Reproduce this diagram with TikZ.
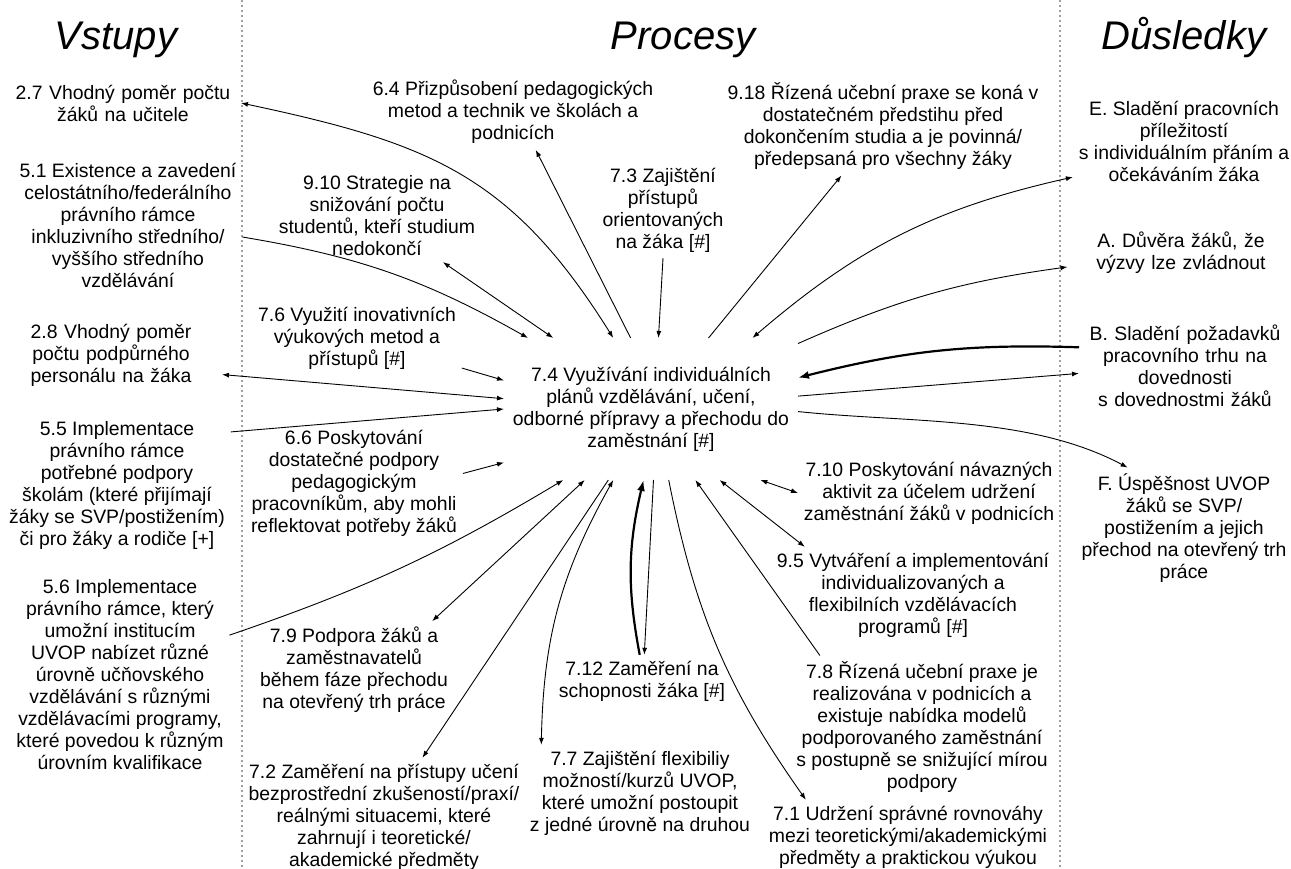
\documentclass[tikz,border=0pt]{standalone}
\usepackage{fontspec}
\setmainfont{Liberation Sans}
\usetikzlibrary{arrows.meta}

\begin{document}
\begin{tikzpicture}[
  x=1pt, y=1pt,
  txt/.style={align=center, inner sep=3pt, outer sep=3pt, font=\fontsize{19.4}{22}\selectfont},
  hub/.style={txt, minimum width=294pt, minimum height=142pt, inner sep=0pt, outer sep=0pt},
  hdr/.style={anchor=base, font=\fontsize{40}{44}\selectfont\itshape},
  divider/.style={gray!75, line width=1.1pt, dash pattern=on 2.5pt off 2.5pt},
  arr/.style={-{Latex[length=7pt,width=5pt]}, line width=0.9pt},
  biarr/.style={{Latex[length=7pt,width=5pt]}-{Latex[length=7pt,width=5pt]}, line width=0.9pt},
  tharr/.style={-{Latex[length=11pt,width=8pt]}, line width=2.2pt}
]
\useasboundingbox (0,0) rectangle (1291,869);

% column dividers
\draw[divider] (242,869) -- (242,0);
\draw[divider] (1060,869) -- (1060,0);

% headings
\node[hdr] (hVst) at (116,819) {Vstupy};
\node[hdr] (hPro) at (683,819) {Procesy};
\node[hdr] (hDus) at (1184,819) {Důsledky};

% inputs
\node[txt, text width=224pt] (n27) at (123,766) {2.7 Vhodný poměr počtu\\žáků na učitele};
\node[txt] (n51) at (128,644) {5.1 Existence a zavedení\\celostátního/federálního\\právního rámce\\inkluzivního středního/\\vyššího středního\\vzdělávání};
\node[txt, text width=210pt] (n28) at (111,514) {2.8 Vhodný poměr\\počtu podpůrného\\personálu na žáka};
\node[txt] (n55) at (117,384) {5.5 Implementace\\právního rámce\\potřebné podpory\\školám (které přijímají\\žáky se SVP/postižením)\\či pro žáky a rodiče [+]};
\node[txt] (n56) at (120,194) {5.6 Implementace\\právního rámce, který\\umožní institucím\\UVOP nabízet různé\\úrovně učňovského\\vzdělávání s různými\\vzdělávacími programy,\\které povedou k různým\\úrovním kvalifikace};

% processes
\node[hub] (hub) at (651,460) {7.4 Využívání individuálních\\plánů vzdělávání, učení,\\odborné přípravy a přechodu do\\zaměstnání [\#]};
\node[txt] (n64) at (513,757) {6.4 Přizpůsobení pedagogických\\metod a technik ve školách a\\podnicích};
\node[txt] (n910) at (377,653) {9.10 Strategie na\\snižování počtu\\studentů, kteří studium\\nedokončí};
\node[txt] (n73) at (663,659) {7.3 Zajištění\\přístupů\\orientovaných\\na žáka [\#]};
\node[txt] (n918) at (883,743) {9.18 Řízená učební praxe se koná v\\dostatečném předstihu před\\dokončením studia a je povinná/\\předepsaná pro všechny žáky};
\node[txt] (n76) at (357,531) {7.6 Využití inovativních\\výukových metod a\\přístupů [\#]};
\node[txt] (n66) at (354,386) {6.6 Poskytování\\dostatečné podpory\\pedagogickým\\pracovníkům, aby mohli\\reflektovat potřeby žáků};
\node[txt] (n79) at (354,199) {7.9 Podpora žáků a\\zaměstnavatelů\\během fáze přechodu\\na otevřený trh práce};
\node[txt] (n712) at (642,188) {7.12 Zaměření na\\schopnosti žáka [\#]};
\node[txt] (n72) at (384,52) {7.2 Zaměření na přístupy učení\\bezprostřední zkušeností/praxí/\\reálnými situacemi, které\\zahrnují i teoretické/\\akademické předměty};
\node[txt] (n77) at (640,76) {7.7 Zajištění flexibiliy\\možností/kurzů UVOP,\\které umožní postoupit\\z jedné úrovně na druhou};
\node[txt] (n710) at (929,376) {7.10 Poskytování návazných\\aktivit za účelem udržení\\zaměstnání žáků v podnicích};
\node[txt] (n95) at (913,274) {9.5 Vytváření a implementování\\individualizovaných a\\flexibilních vzdělávacích\\programů [\#]};
\node[txt] (n78) at (922,142) {7.8 Řízená učební praxe je\\realizována v podnicích a\\existuje nabídka modelů\\podporovaného zaměstnání\\s postupně se snižující mírou\\podpory};
\node[txt] (n71) at (908,32) {7.1 Udržení správné rovnováhy\\mezi teoretickými/akademickými\\předměty a praktickou výukou};

% outcomes
\node[txt] (nE) at (1184,728) {E. Sladění pracovních\\příležitostí\\s individuálním přáním a\\očekáváním žáka};
\node[txt, text width=215pt] (nA) at (1181,616) {A. Důvěra žáků, že\\výzvy lze zvládnout};
\node[txt, text width=200pt] (nB) at (1185,503) {B. Sladění požadavků\\pracovního trhu na\\dovednosti\\s dovednostmi žáků};
\node[txt] (nF) at (1184,341) {F. Úspěšnost UVOP\\žáků se SVP/\\postižením a jejich\\přechod na otevřený trh\\práce};

% links above the hub
\draw[biarr] (hub.118) to[out=122, in=-12, looseness=1.12] (n27.east);
\draw[arr] (n51.-6) to[bend left=10] (hub.150);
\draw[biarr] (n910.-35) -- (hub.144);
\draw[arr] (hub.106) -- (n64.-59);
\draw[arr] (n73.south) -- (hub.84);
\draw[arr] (hub.51) -- (n918.-130);
\draw[biarr] (hub.35) to[bend left=14] (nE.-162);
\draw[arr] (hub.24) to[bend left=8] (nA.-173);

% links to the right
\draw[tharr] (nB.170) to[bend right=8] (hub.12);
\draw[arr] (hub.5) -- (nB.-176);
\draw[arr] (hub.-1) to[out=-6, in=152, looseness=0.85] (nF.133);
\draw[biarr] (hub.-33) -- (n710.west);

% links below the hub
\draw[biarr] (hub.-46) -- (n95.156);
\draw[arr] (n78.145) -- (hub.-58);
\draw[arr] (hub.-76) to[bend right=12] (n71.160);
\draw[tharr] (n712.95) to[bend left=12] (hub.-96);
\draw[arr] (hub.-88) -- (n712.85);
\draw[biarr] (hub.-118) to[bend right=14] (n77.154);
\draw[arr] (hub.-121) -- (n72.57);
\draw[biarr] (hub.-133) -- (n79.32);

% links to the left
\draw[arr] (n56.20) to[bend right=6] (hub.-141);
\draw[arr] (n66.5) -- (hub.-160);
\draw[arr] (n76.-16) -- (hub.169);
\draw[biarr] (n28.-10) -- (hub.176);
\draw[arr] (n55.25) -- (hub.180);

\end{tikzpicture}
\end{document}
